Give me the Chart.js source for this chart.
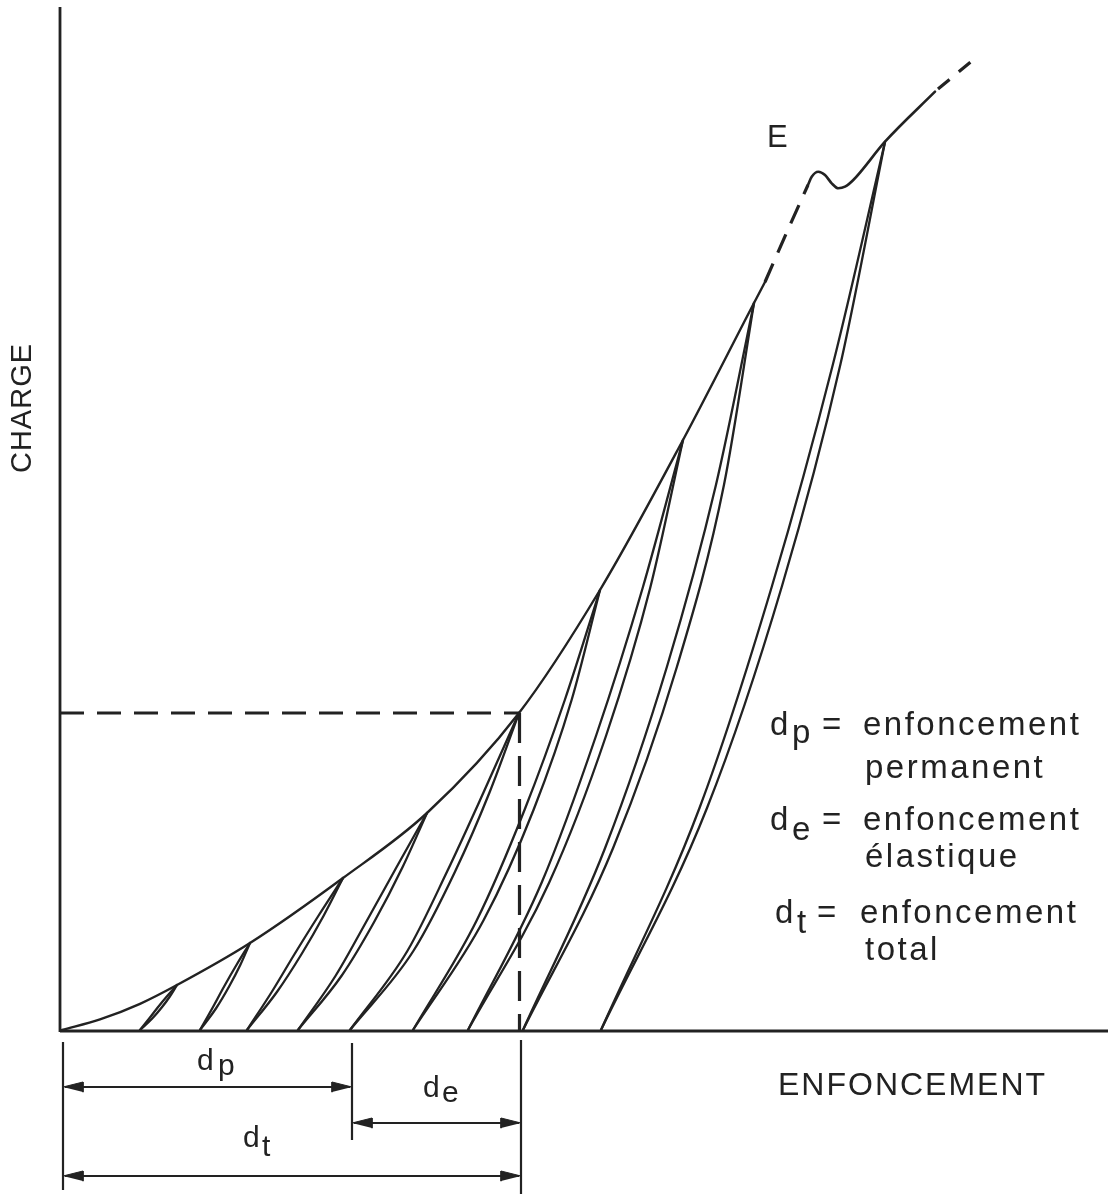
<!DOCTYPE html>
<html>
<head>
<meta charset="utf-8">
<script src="https://cdn.jsdelivr.net/npm/chart.js@4.4.1/dist/chart.umd.min.js"></script>
<style>
  html, body { margin: 0; padding: 0; background: #ffffff; }
  #wrap { width: 1108px; height: 1194px; }
</style>
</head>
<body>
<div id="wrap"><canvas id="chart" width="1108" height="1194"></canvas></div>
<script>
// Load (CHARGE) versus penetration (ENFONCEMENT), drawing units.
// Loading envelope up to the 8th unloading peak
const envelopeX = [2, 40, 80, 117, 190, 283, 367, 459, 540, 623, 694, 705];
const envelopeY = [0, 10.6, 26.2, 45, 87, 152, 217, 317, 440, 590, 727, 748];
// uncertain stretch of the envelope (dashed)
const envelopeDashX = [705, 726, 748];
const envelopeDashY = [748, 796, 845];
// yield zone E and the last peak
const yieldX = [748, 751.7, 758.3, 765, 771.7, 778.3, 785, 793.3, 825, 875];
const yieldY = [845, 853.3, 858.3, 855, 846.7, 841.7, 843.3, 850, 888.3, 938.3];
const tailDashX = [878, 913];
const tailDashY = [941, 970];

// Unloading / reloading cycles: residual penetration, peak point
const loopBase = [80, 140, 187, 238, 290, 353, 408, 463, 541];
const loopTipX = [117, 190, 283, 367, 459, 540, 623, 694, 825];
const loopTipY = [45, 87, 152, 217, 317, 440, 590, 727, 888];
// penetration of each branch at 1/4, 1/2 and 3/4 of the peak load
const loadFractions = [0.25, 0.5, 0.75];
const reloadX = [
  [89, 97.7, 107], [152.3, 164.1, 176.6], [211.7, 234.6, 258.3],
  [275.6, 306.4, 336.5], [347.5, 387.1, 423.6], [416.9, 464.5, 504.8],
  [481.7, 536.3, 582.8], [545, 607, 656], [639.5, 712, 773]
];
const unloadX = [
  [92, 101.7, 110], [156.1, 169.1, 180.4], [216.9, 241.6, 263.5],
  [281.6, 314.4, 342.5], [353.5, 395.1, 429.6], [423.7, 473.5, 511.6],
  [489.2, 546.3, 590.3], [553, 617, 664], [647, 722, 780.5]
];

// Reading of the 5th cycle: peak load and total penetration
const refLoad = 317;
const refPenetration = 459.5;

// Dimension arrows under the axis: [from, to, level]
const dimArrows = [
  [3, 292, -57],    // d_p
  [292, 461, -93],  // d_e
  [3, 461, -146]    // d_t
];
// extension lines: [x, top, bottom]
const dimExtensions = [
  [3, -12, -160],
  [292, -13, -110],
  [461, -10, -164]
];

const INK = '#222222';
const FONT = '"Liberation Sans", Arial, Helvetica, sans-serif';

// Text: [text, x, y, size, letterSpacing, rotation]
const textItems = [
  ['CHARGE', -37, 622, 29, 1, -90],
  ['E', 707, 883, 31, 0, 0],
  ['ENFONCEMENT', 718, -65, 32, 2, 0],
  // legend
  ['d', 710, 295, 33, 0, 0], ['p', 732, 287, 33, 0, 0], ['=', 762, 295, 33, 0, 0],
  ['enfoncement', 803, 295, 33, 2.5, 0],
  ['permanent', 805, 252, 33, 2.5, 0],
  ['d', 710, 200, 33, 0, 0], ['e', 732, 190, 33, 0, 0], ['=', 762, 200, 33, 0, 0],
  ['enfoncement', 803, 200, 33, 2.5, 0],
  ['élastique', 805, 163, 33, 2.5, 0],
  ['d', 715, 107, 33, 0, 0], ['t', 737, 97, 33, 0, 0], ['=', 757, 107, 33, 0, 0],
  ['enfoncement', 800, 107, 33, 2.5, 0],
  ['total', 805, 70, 33, 2.5, 0],
  // dimension labels
  ['d', 137, -40, 30, 0, 0], ['p', 158, -45, 30, 0, 0],
  ['d', 363, -67, 30, 0, 0], ['e', 382, -72, 30, 0, 0],
  ['d', 183, -117, 30, 0, 0], ['t', 202, -126, 30, 0, 0]
];

function pts(xs, ys) { return xs.map((x, i) => ({ x: x, y: ys[i] })); }
function stroke(data, extra) {
  return Object.assign({
    data: data, borderColor: INK, backgroundColor: INK, borderWidth: 2.4,
    pointRadius: 0, fill: false, tension: 0, borderCapStyle: 'round'
  }, extra || {});
}

const datasets = [];
// axes
datasets.push(stroke([{ x: 0, y: 1023 }, { x: 0, y: -2 }], { borderWidth: 2.8, borderCapStyle: 'butt' }));
datasets.push(stroke([{ x: 0, y: -1 }, { x: 1048, y: -1 }], { borderWidth: 2.8, borderCapStyle: 'butt' }));

// envelope
datasets.push(stroke(pts(envelopeX, envelopeY), { cubicInterpolationMode: 'monotone' }));
datasets.push(stroke(pts(envelopeDashX, envelopeDashY), { borderWidth: 3.2, borderDash: [20, 12], borderCapStyle: 'butt' }));
datasets.push(stroke(pts(yieldX, yieldY), { cubicInterpolationMode: 'monotone', borderWidth: 2.6 }));
datasets.push(stroke(pts(tailDashX, tailDashY), { borderWidth: 3.2, borderDash: [15, 12], borderCapStyle: 'butt' }));

// cycles
loopBase.forEach((b, i) => {
  const tip = { x: loopTipX[i], y: loopTipY[i] };
  const branch = xs => [{ x: b, y: 0 }]
    .concat(xs.map((x, k) => ({ x: x, y: loopTipY[i] * loadFractions[k] })))
    .concat([tip]);
  datasets.push(stroke(branch(reloadX[i]), { cubicInterpolationMode: 'monotone', borderWidth: 2.3 }));
  datasets.push(stroke(branch(unloadX[i]), { cubicInterpolationMode: 'monotone', borderWidth: 2.3 }));
});

// reading lines for the 5th cycle
datasets.push(stroke([{ x: 0, y: refLoad }, { x: refPenetration, y: refLoad }],
  { borderWidth: 3.2, borderDash: [24, 13], borderCapStyle: 'butt' }));
datasets.push(stroke([{ x: refPenetration, y: refLoad }, { x: refPenetration, y: 0 }],
  { borderWidth: 3.2, borderDash: [30, 13], borderCapStyle: 'butt' }));

// dimension lines
dimExtensions.forEach(e => {
  datasets.push(stroke([{ x: e[0], y: e[1] }, { x: e[0], y: e[2] }], { borderWidth: 2.2, borderCapStyle: 'butt' }));
});
const HEAD_L = 20, HEAD_W = 5;
dimArrows.forEach(a => {
  const [x1, x2, y] = a;
  datasets.push(stroke([{ x: x1 + 2, y: y }, { x: x2 - 2, y: y }], { borderWidth: 2.2, borderCapStyle: 'butt' }));
  datasets.push(stroke([{ x: x1, y: y }, { x: x1 + HEAD_L, y: y + HEAD_W }, { x: x1 + HEAD_L, y: y - HEAD_W }],
    { fill: 'shape', borderWidth: 1 }));
  datasets.push(stroke([{ x: x2, y: y }, { x: x2 - HEAD_L, y: y + HEAD_W }, { x: x2 - HEAD_L, y: y - HEAD_W }],
    { fill: 'shape', borderWidth: 1 }));
});

const textPlugin = {
  id: 'diagramText',
  afterDatasetsDraw(chart) {
    const { ctx } = chart;
    const sx = chart.scales.x, sy = chart.scales.y;
    ctx.save();
    ctx.fillStyle = INK;
    textItems.forEach(([t, x, y, size, spacing, rot]) => {
      ctx.font = size + 'px ' + FONT;
      ctx.letterSpacing = spacing + 'px';
      const px = sx.getPixelForValue(x), py = sy.getPixelForValue(y);
      if (rot) {
        ctx.save();
        ctx.translate(px, py);
        ctx.rotate(rot * Math.PI / 180);
        ctx.textAlign = 'center';
        ctx.textBaseline = 'middle';
        ctx.fillText(t, 0, 0);
        ctx.restore();
      } else {
        ctx.textAlign = 'left';
        ctx.textBaseline = 'alphabetic';
        ctx.fillText(t, px, py);
      }
    });
    ctx.restore();
  }
};

new Chart(document.getElementById('chart'), {
  type: 'line',
  data: { datasets: datasets },
  options: {
    responsive: false,
    animation: false,
    devicePixelRatio: 1,
    events: [],
    layout: { padding: 0 },
    plugins: { legend: { display: false }, tooltip: { enabled: false } },
    scales: {
      x: { type: 'linear', display: false, min: -60, max: 1048 },
      y: { type: 'linear', display: false, min: -164, max: 1030 }
    }
  },
  plugins: [textPlugin]
});
</script>
</body>
</html>
